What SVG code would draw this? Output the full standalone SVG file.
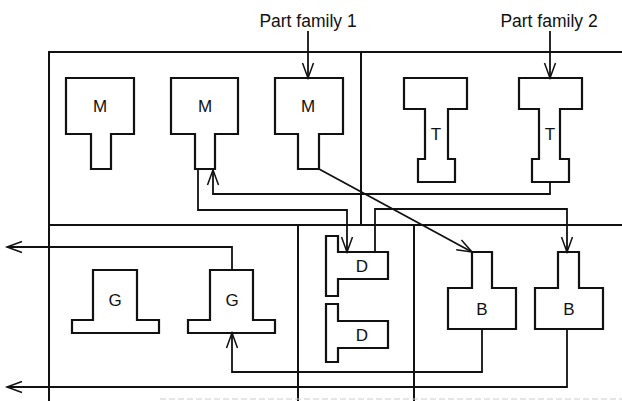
<svg xmlns="http://www.w3.org/2000/svg" width="622" height="401" viewBox="0 0 622 401">
<defs>
<style>
.cell{fill:none;stroke:#111;stroke-width:2}
.shape{fill:#fff;stroke:#111;stroke-width:2.2;stroke-linejoin:miter}
.lbl{font-family:"Liberation Sans",Arial,sans-serif;font-size:17px;fill:#111;text-anchor:middle}
.title{font-family:"Liberation Sans",Arial,sans-serif;font-size:17.5px;fill:#111;text-anchor:middle}
.conn{fill:none;stroke:#111;stroke-width:1.8;marker-end:url(#arr)}
.faint{fill:none;stroke:#ccc;stroke-width:1;stroke-dasharray:6 3}
</style>
<marker id="arr" markerUnits="userSpaceOnUse" markerWidth="20" markerHeight="14" refX="16" refY="6" orient="auto" viewBox="0 0 20 12">
<path d="M1,0.5 L16,6 L1,11.5" fill="none" stroke="#111" stroke-width="1.5"/>
</marker>
</defs>
<rect width="622" height="401" fill="#fff"/>

<g id="cells">
<path class="cell" d="M49,401 V52 H622"/>
<path class="cell" d="M361,52 V225"/>
<path class="cell" d="M49,225 H622"/>
<path class="cell" d="M298,225 V401 M414,225 V401"/>
<path class="faint" d="M160,399 H622"/>
</g>

<g id="title1"><text class="title" x="308" y="27">Part family 1</text></g>
<g id="title2"><text class="title" x="549" y="27">Part family 2</text></g>

<g id="M1"><path class="shape" d="M66,78 H134 V134 H111 V169 H91 V134 H66 Z"/><text class="lbl" x="100" y="112">M</text></g>
<g id="M2"><path class="shape" d="M171,78 H238 V134 H215 V169 H195 V134 H171 Z"/><text class="lbl" x="205" y="112">M</text></g>
<g id="M3"><path class="shape" d="M275,78 H343 V134 H319 V169 H298 V134 H275 Z"/><text class="lbl" x="308" y="112">M</text></g>

<g id="T1"><path class="shape" d="M404,78 H467 V109 H448 V159 H455 V182 H418 V159 H425 V109 H404 Z"/><text class="lbl" x="436" y="140">T</text></g>
<g id="T2"><path class="shape" d="M519,78 H582 V109 H560 V159 H569 V182 H532 V159 H539 V109 H519 Z"/><text class="lbl" x="550" y="140">T</text></g>

<g id="G1"><path class="shape" d="M93,270 H137 V320 H159 V333 H72 V320 H93 Z"/><text class="lbl" x="115" y="306">G</text></g>
<g id="G2"><path class="shape" d="M210,270 H253 V320 H275 V333 H188 V320 H210 Z"/><text class="lbl" x="232" y="306">G</text></g>

<g id="D1"><path class="shape" d="M326,236 H338 V252 H388 V279 H338 V296 H326 Z"/><text class="lbl" x="362" y="272">D</text></g>
<g id="D2"><path class="shape" d="M326,304 H338 V321 H388 V348 H338 V362 H326 Z"/><text class="lbl" x="362" y="341">D</text></g>

<g id="B1"><path class="shape" d="M472,252 H492 V288 H516 V329 H448 V288 H472 Z"/><text class="lbl" x="482" y="315">B</text></g>
<g id="B2"><path class="shape" d="M558,252 H579 V288 H603 V329 H535 V288 H558 Z"/><text class="lbl" x="569" y="315">B</text></g>

<g id="connectors">
<path class="conn" d="M308,31 V78"/>
<path class="conn" d="M550,31 V78"/>
<path class="conn" d="M550,182 V194 H213 V170"/>
<path class="conn" d="M198,169 V210 H347 V252"/>
<path class="conn" d="M319,169 L472,252"/>
<path class="conn" d="M375,252 V209 H567 V252"/>
<path class="conn" d="M482,329 V372 H232 V333"/>
<path class="conn" d="M567,329 V387 H7"/>
<path class="conn" d="M232,270 V247 H7"/>
</g>
</svg>
